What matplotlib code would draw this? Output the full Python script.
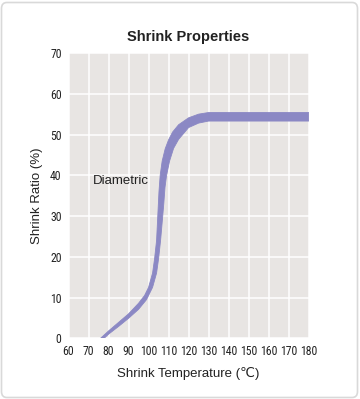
import numpy as np
import matplotlib.pyplot as plt
from matplotlib.patches import FancyBboxPatch

# band edges (temperature in C, shrink ratio in %)
upper_t = [76.0, 80, 85, 90, 95, 98, 100, 102, 103, 104.0, 104.6, 105.2, 105.8, 106.8,
           108.3, 110, 112, 115, 120, 125, 130, 180]
upper_r = [0, 1.8, 3.9, 6.0, 8.6, 10.5, 12.5, 16, 19.5, 24, 30, 36, 40, 43.5,
           46.5, 48.7, 50.6, 52.4, 54.1, 55.0, 55.4, 55.4]
lower_t = [77.8, 80, 85, 90, 95, 99, 102, 104, 105, 106, 106.9, 107.6, 108.2, 109,
           110.5, 112.5, 115, 120, 125, 130, 180]
lower_r = [0, 1.0, 2.9, 4.9, 7.1, 9.5, 12.5, 16, 19.5, 24, 29, 33, 37, 40,
           43.5, 46.6, 48.8, 51.7, 52.8, 53.3, 53.3]

xticks = list(range(60, 181, 10))
yticks = list(range(0, 71, 10))

plt.rcParams['font.family'] = ['Liberation Sans', 'DejaVu Sans']

fig = plt.figure(figsize=(3.6, 3.99), dpi=100)

# card border
card = FancyBboxPatch((1.5 / 360, 1.5 / 399), 356 / 360, 395 / 399,
                      boxstyle='round,pad=0,rounding_size=0.015',
                      transform=fig.transFigure, facecolor='white',
                      edgecolor='#d9d9d9', linewidth=1.2, zorder=-5)
fig.patches.append(card)

ax = fig.add_axes([68.5 / 360, (399 - 338.3) / 399, 240.2 / 360, 285.3 / 399])
ax.set_zorder(5)
ax.set_facecolor('#e8e5e3')
ax.set_xlim(60, 180)
ax.set_ylim(0, 70)
ax.set_xticks(xticks)
ax.set_yticks(yticks)
ax.grid(True, color='white', linewidth=1.1)
ax.set_axisbelow(True)
for s in ax.spines.values():
    s.set_visible(False)
ax.tick_params(length=0, colors='#222222')
ax.tick_params(axis='x', pad=5)
ax.tick_params(axis='y', pad=5)
for lab in ax.get_xticklabels() + ax.get_yticklabels():
    lab.set_family(['Roboto Condensed', 'Liberation Sans Narrow', 'DejaVu Sans'])
    lab.set_stretch('condensed')
    lab.set_fontsize(8.5)

# band
bx = np.r_[upper_t, lower_t[::-1]]
by = np.r_[upper_r, lower_r[::-1]]
ax.fill(bx, by, color='#8b88c4', linewidth=0.6, edgecolor='#8b88c4', zorder=3)

ax.text(72.4, 38.5, 'Diametric', fontsize=9.5, va='center', ha='left', color='#222222')

ax.set_title('Shrink Properties', fontsize=10.5, fontweight='bold', color='#222222', pad=9)
ax.set_xlabel('Shrink Temperature (℃)', fontsize=9.5, color='#222222', labelpad=6)
ax.set_ylabel('Shrink Ratio (%)', fontsize=9.5, color='#222222', labelpad=5)

fig.savefig('out.png', dpi=100, facecolor='white')
